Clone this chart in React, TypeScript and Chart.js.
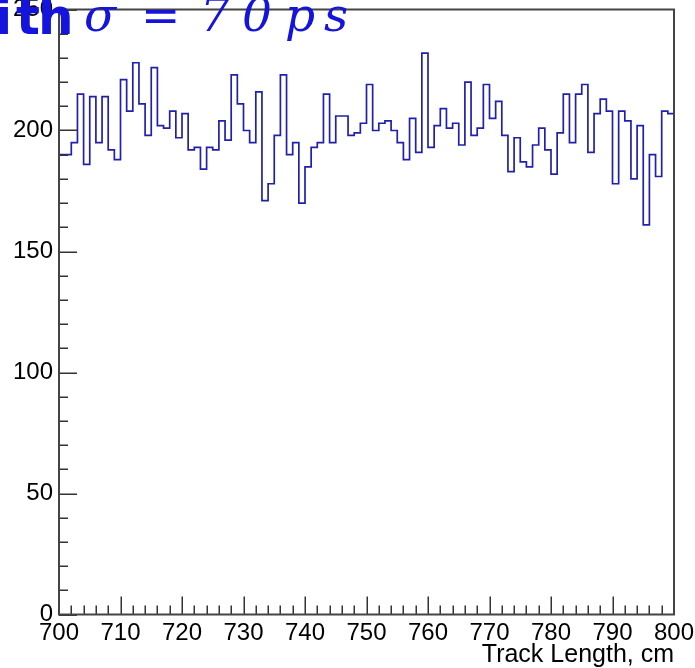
import React, { useEffect, useRef } from 'react';
import { Chart, registerables } from 'chart.js';

Chart.register(...registerables);

// Histogram binning: 1 cm bins from 700 to 800 cm
const binStart = 700;
const binEnd = 800;
const binWidth = 1;

// Entries per bin
const counts = [
  190, 190, 195, 215, 186, 214, 195, 214, 192, 188,
  221, 208, 228, 211, 198, 226, 202, 201, 208, 197,
  207, 192, 193, 184, 193, 192, 204, 196, 223, 211,
  200, 195, 216, 171, 178, 198, 223, 190, 195, 170,
  185, 193, 195, 215, 195, 206, 206, 198, 199, 203,
  219, 200, 203, 204, 200, 195, 188, 205, 191, 232,
  193, 202, 209, 201, 203, 194, 220, 198, 201, 219,
  205, 212, 198, 183, 197, 187, 185, 194, 201, 192,
  182, 199, 215, 195, 215, 219, 191, 207, 213, 208,
  178, 208, 204, 180, 202, 161, 190, 181, 208, 207,
];

// Axis ranges and tick spacing
const yMin = 0;
const yMax = 250;
const xMajorStep = 10;
const xMinorStep = 2;
const yMajorStep = 50;
const yMinorStep = 10;

const xTitle = 'Track Length, cm';
const titleLead = ['i', 't', 'h'];
const titleMath = ['σ', '=', '7', '0', 'p', 's'];

const AXIS_FONT = '"Liberation Sans", Arial, sans-serif';

// Inward-pointing ticks and the closed frame around the plot area
const frameTicks = {
  id: 'frameTicks',
  afterDatasetsDraw(chart: any) {
    const { ctx, chartArea: a, scales } = chart;
    const x = scales.x;
    const y = scales.y;
    ctx.save();
    ctx.strokeStyle = '#333';
    ctx.lineWidth = 1.5;
    ctx.beginPath();
    for (let v = binStart; v <= binEnd + 1e-9; v += xMinorStep) {
      const px = Math.round(x.getPixelForValue(v)) + 0.25;
      const len = Math.abs(v % xMajorStep) < 1e-9 ? 18 : 9;
      ctx.moveTo(px, a.bottom);
      ctx.lineTo(px, a.bottom - len);
    }
    for (let v = yMin; v <= yMax + 1e-9; v += yMinorStep) {
      const py = Math.round(y.getPixelForValue(v)) + 0.25;
      const len = Math.abs(v % yMajorStep) < 1e-9 ? 18 : 9;
      ctx.moveTo(a.left, py);
      ctx.lineTo(a.left + len, py);
    }
    ctx.stroke();
    ctx.strokeStyle = '#444';
    ctx.lineWidth = 2;
    ctx.strokeRect(a.left, a.top, a.right - a.left, a.bottom - a.top);
    ctx.restore();
  },
};

// Blue title text in the top-left corner
const titleText = {
  id: 'titleText',
  afterDraw(chart: any) {
    const { ctx } = chart;
    ctx.save();
    ctx.fillStyle = '#1414dc';
    ctx.textBaseline = 'alphabetic';
    ctx.textAlign = 'left';
    ctx.font = 'bold 50px "DejaVu Sans"';
    const leadX = [-5, 16, 38];
    titleLead.forEach((g, i) => ctx.fillText(g, leadX[i], 34));
    ctx.font = 'italic 47px "DejaVu Serif"';
    const mathX = [84, 141, 200, 242, 285, 324];
    titleMath.forEach((g, i) => ctx.fillText(g, mathX[i], 31));
    ctx.restore();
  },
};

export default function App() {
  const canvasRef = useRef<HTMLCanvasElement | null>(null);

  useEffect(() => {
    document.body.style.margin = '0';
    const canvas = canvasRef.current;
    if (!canvas) return;

    // Step outline: each bin value held across its width, closed at the last edge
    const points = counts.map((c, i) => ({ x: binStart + i * binWidth, y: c }));
    points.push({ x: binEnd, y: counts[counts.length - 1] });

    const chart = new Chart(canvas, {
      type: 'line',
      data: {
        datasets: [
          {
            data: points,
            stepped: 'before',
            borderColor: '#2020ac',
            borderWidth: 1.7,
            pointRadius: 0,
            fill: false,
          },
        ],
      },
      options: {
        animation: false,
        responsive: false,
        events: [],
        layout: { padding: { top: 9.5, right: 21, left: 0, bottom: 0 } },
        plugins: {
          legend: { display: false },
          tooltip: { enabled: false },
          title: { display: false },
        },
        scales: {
          x: {
            type: 'linear',
            min: binStart,
            max: binEnd,
            grid: { display: false, drawTicks: false },
            border: { display: false },
            ticks: {
              stepSize: xMajorStep,
              color: '#000',
              padding: 4,
              maxRotation: 0,
              autoSkip: false,
              font: { family: AXIS_FONT, size: 24 },
            },
            title: {
              display: true,
              text: xTitle,
              align: 'end',
              color: '#000',
              padding: 0,
              font: { family: AXIS_FONT, size: 25, lineHeight: 1 },
            },
            afterFit: (s: any) => {
              s.height = 53.5;
              s.paddingLeft = 0;
              s.paddingRight = 0;
            },
          },
          y: {
            min: yMin,
            max: yMax,
            grid: { display: false, drawTicks: false },
            border: { display: false },
            ticks: {
              stepSize: yMajorStep,
              color: '#000',
              padding: 6,
              font: { family: AXIS_FONT, size: 24 },
            },
            afterFit: (s: any) => {
              s.width = 59;
              s.paddingTop = 0;
              s.paddingBottom = 0;
            },
          },
        },
      },
      plugins: [frameTicks, titleText],
    });

    return () => chart.destroy();
  }, []);

  return <canvas ref={canvasRef} width={695} height={668} style={{ display: 'block' }} />;
}
